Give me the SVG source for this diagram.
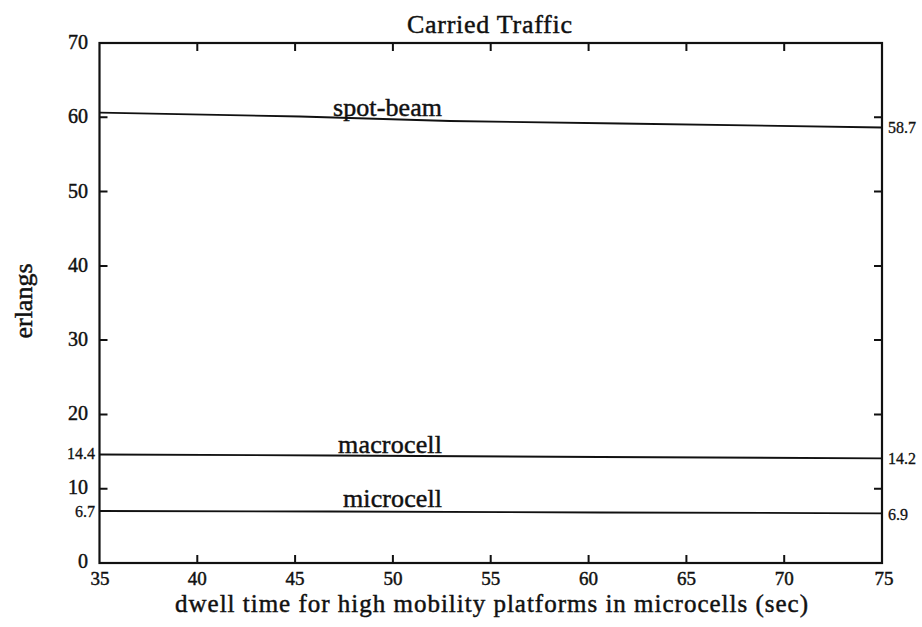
<svg xmlns="http://www.w3.org/2000/svg" width="922" height="627" viewBox="0 0 922 627">
  <style>
    text { font-family: "Liberation Serif", "Times New Roman", serif; fill: #111; stroke: #111; stroke-width: 0.45; }
    .frame { fill: none; stroke: #111; stroke-width: 2.2; }
    .tick { stroke: #111; stroke-width: 2; }
    .curve { fill: none; stroke: #111; stroke-width: 1.8; }
    .yl { font-size: 20px; text-anchor: end; }
    .xl { font-size: 19px; text-anchor: middle; }
    .sm { font-size: 16px; stroke-width: 0.3; }
    .lab { font-size: 26px; }
    .xt { font-size: 25px; }
    .ttl { font-size: 26px; }
  </style>
  <rect width="922" height="627" fill="#fff"/>

  <!-- title -->
  <text class="ttl" x="407" y="33" textLength="165">Carried Traffic</text>

  <!-- plot frame: x 35..75 maps to 99.5..882, y 0..70 maps to 563..43 -->
  <g id="axes">
    <rect class="frame" x="99.5" y="43" width="782.5" height="520"/>
    <path class="tick" d="M197.3,43v8M295.1,43v8M392.9,43v8M490.7,43v8M588.6,43v8M686.4,43v8M784.2,43v8
                          M197.3,563v-8M295.1,563v-8M392.9,563v-8M490.7,563v-8M588.6,563v-8M686.4,563v-8M784.2,563v-8
                          M99.5,488.7h8M99.5,414.4h8M99.5,340.1h8M99.5,265.9h8M99.5,191.6h8M99.5,117.3h8
                          M882,488.7h-8M882,414.4h-8M882,340.1h-8M882,265.9h-8M882,191.6h-8M882,117.3h-8"/>
  </g>

  <!-- y axis tick labels -->
  <g id="y-ticks">
    <text class="yl" x="88" y="49">70</text>
    <text class="yl" x="88" y="123">60</text>
    <text class="yl" x="88" y="198">50</text>
    <text class="yl" x="88" y="272">40</text>
    <text class="yl" x="88" y="346">30</text>
    <text class="yl" x="88" y="420">20</text>
    <text class="yl" x="88" y="494">10</text>
    <text class="yl" x="88" y="568">0</text>
    <text class="yl sm" x="95" y="459">14.4</text>
    <text class="yl sm" x="95" y="517">6.7</text>
  </g>

  <!-- x axis tick labels -->
  <g id="x-ticks">
    <text class="xl" x="100" y="585">35</text>
    <text class="xl" x="197.3" y="585">40</text>
    <text class="xl" x="295.1" y="585">45</text>
    <text class="xl" x="392.9" y="585">50</text>
    <text class="xl" x="490.7" y="585">55</text>
    <text class="xl" x="588.6" y="585">60</text>
    <text class="xl" x="686.4" y="585">65</text>
    <text class="xl" x="784.2" y="585">70</text>
    <text class="xl" x="884" y="585">75</text>
  </g>

  <!-- axis titles -->
  <text class="xt" x="175" y="612" textLength="633">dwell time for high mobility platforms in microcells (sec)</text>
  <text class="lab" transform="translate(32,301) rotate(-90)" text-anchor="middle">erlangs</text>

  <!-- carried traffic curves -->
  <g id="spot-beam">
    <polyline class="curve" points="100,112.7 300,116.5 450,121 620,123.5 882,127.5"/>
    <text class="lab" x="333" y="116" textLength="109">spot-beam</text>
    <text class="sm" x="888" y="133">58.7</text>
  </g>
  <g id="macrocell">
    <polyline class="curve" points="100,454.5 330,455.5 600,457 882,458.3"/>
    <text class="lab" x="338" y="453" textLength="104">macrocell</text>
    <text class="sm" x="888" y="464">14.2</text>
  </g>
  <g id="microcell">
    <polyline class="curve" points="100,511 330,511.5 600,512.5 882,513.3"/>
    <text class="lab" x="343" y="507" textLength="99">microcell</text>
    <text class="sm" x="888" y="520">6.9</text>
  </g>
</svg>
